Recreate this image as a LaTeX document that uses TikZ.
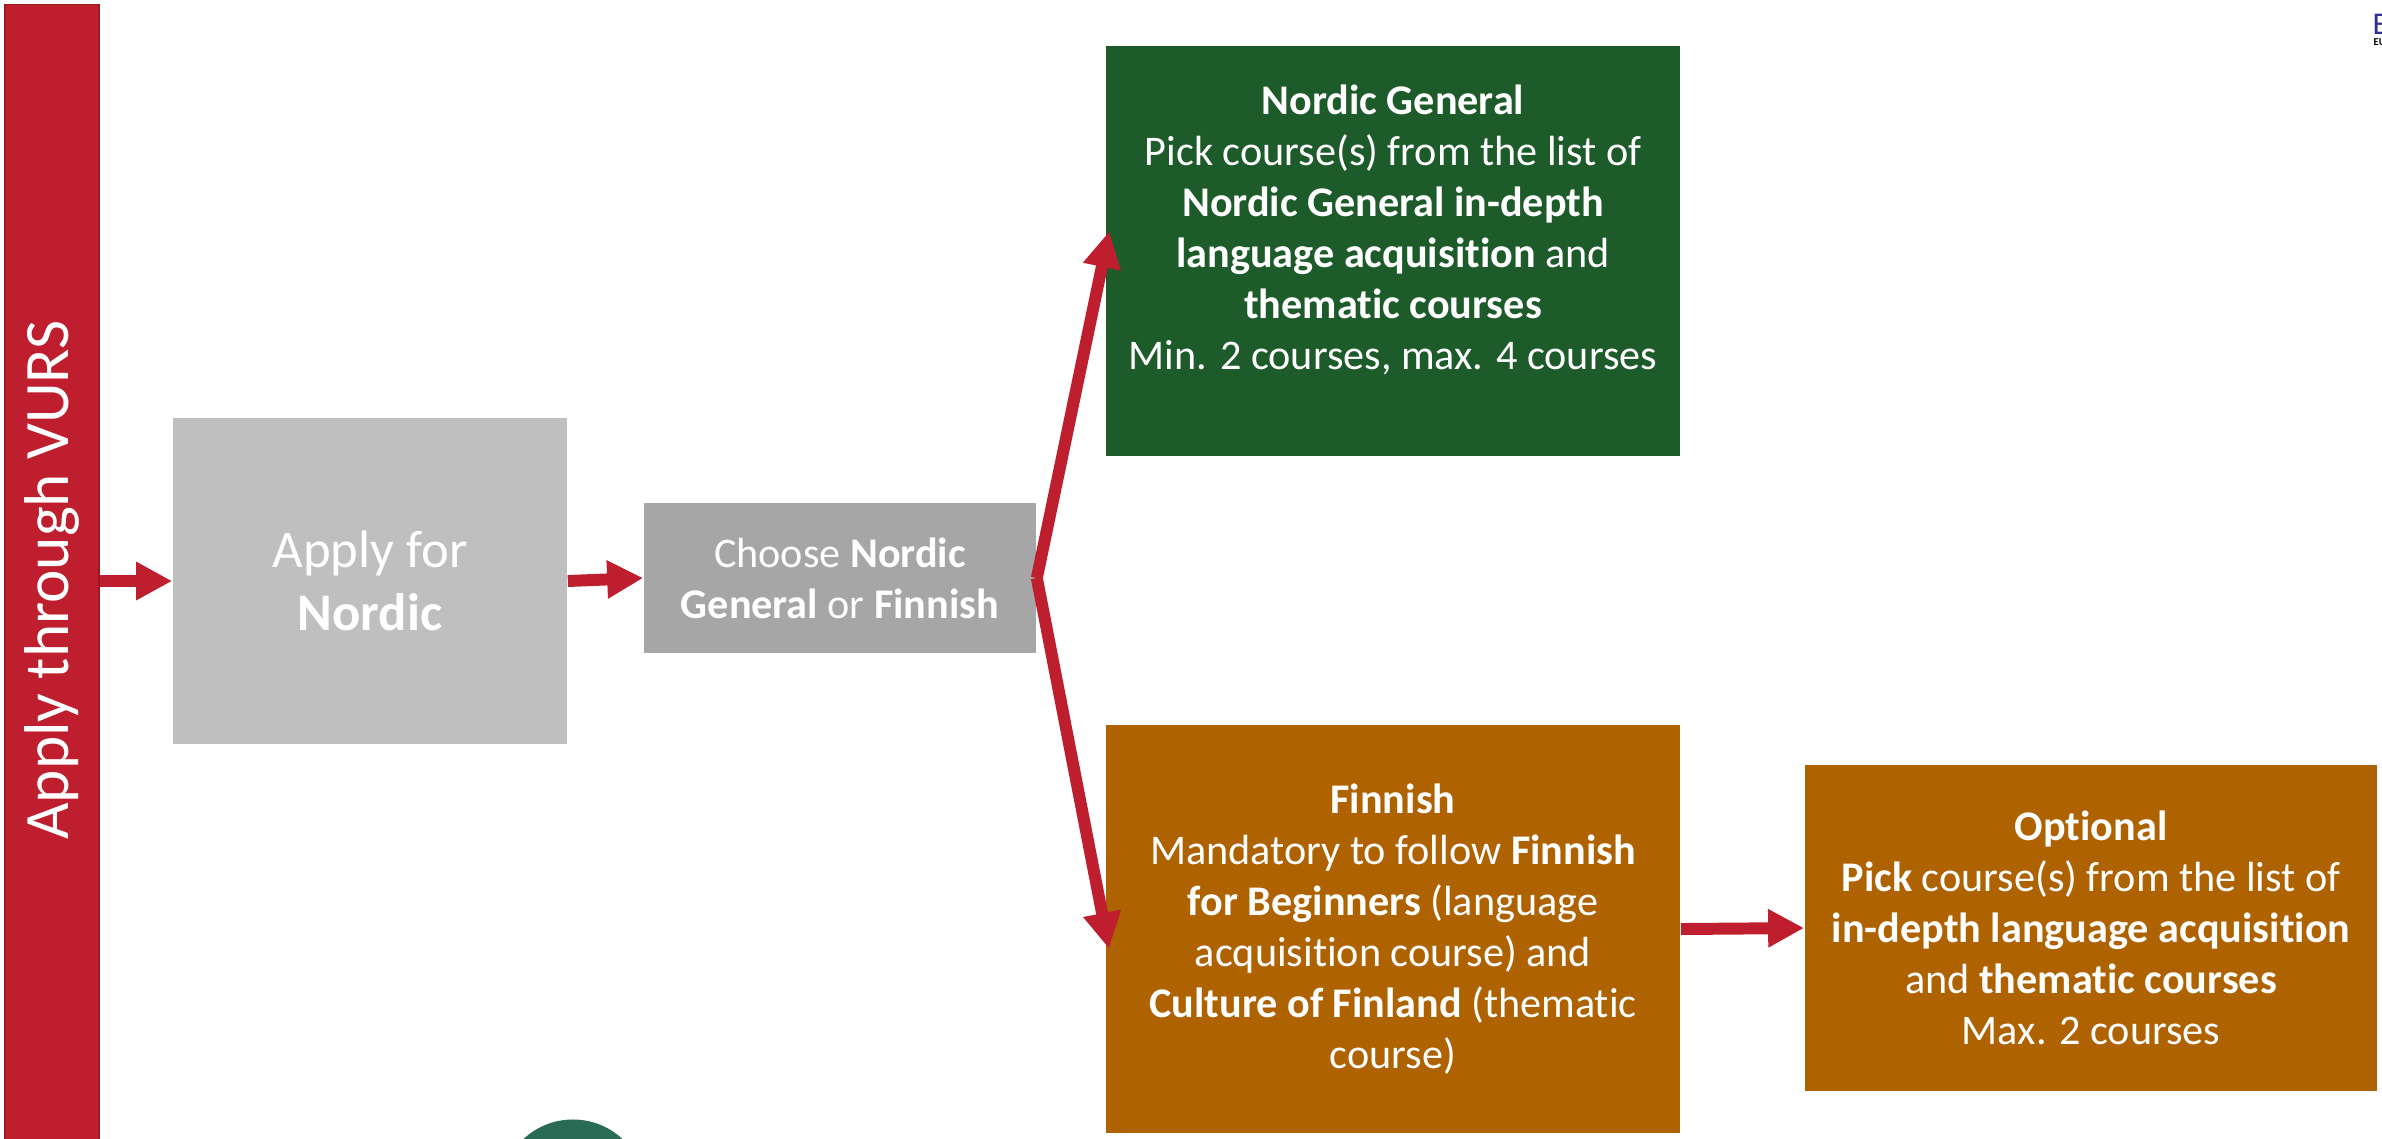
\documentclass[tikz,border=0pt]{standalone}
\usepackage{fontspec}
\setmainfont{Carlito}[Ligatures=NoCommon]
\usepackage{xcolor}
\usetikzlibrary{arrows.meta,positioning}

\definecolor{vursred}{HTML}{BE1E2D}
\definecolor{applygray}{HTML}{BFBFBF}
\definecolor{choosegray}{HTML}{A6A6A6}
\definecolor{gengreen}{HTML}{1E5B2A}
\definecolor{finorange}{HTML}{AE6200}
\definecolor{logoblue}{HTML}{2E3192}
\definecolor{blobgreen}{HTML}{2A6B55}

\begin{document}
\begin{tikzpicture}[x=0.01cm, y=-0.01cm,
  blk/.style={rectangle, inner sep=0pt, text=white, align=center,
              font=\fontsize{12}{14.5}\selectfont},
  arr/.style={draw=vursred, line width=3.4pt,
              -{Triangle[length=3.6mm, width=3.6mm]}}]
  \useasboundingbox (0,0) rectangle (2382,1138);

  % left bar and first steps
  \node[rectangle, fill=vursred, draw=vursred!80!black, line width=0.4pt,
        minimum width=0.94cm, minimum height=11.5cm] (vurs) at (52,580) {};
  \node[rotate=90, text=white, font=\fontsize{18}{22}\selectfont]
       (vurstext) at (vurs.center) {Apply through VURS};
  \node[blk, fill=applygray, minimum width=3.94cm, minimum height=3.26cm,
        font=\fontsize{15}{18}\selectfont] (apply) at (370,581)
       {Apply for\\ \textbf{Nordic}};
  \node[blk, fill=choosegray, minimum width=3.92cm, minimum height=1.49cm]
       (choose) at (840,578) {Choose \textbf{Nordic}\\ \textbf{General} or \textbf{Finnish}};

  % the two tracks
  \node[blk, fill=gengreen, minimum width=5.74cm, minimum height=4.09cm]
       (general) at (1393,251) {};
  \node[blk] (gentext) at ([yshift=2.1mm]general.center)
       {\textbf{Nordic General}\\ Pick course(s) from the list of\\
        \textbf{Nordic General in-depth}\\ \textbf{language acquisition} and\\
        \textbf{thematic courses}\\ Min. 2 courses, max. 4 courses};
  \node[blk, fill=finorange, minimum width=5.74cm, minimum height=4.08cm]
       (finnish) at (1393,929)
       {\textbf{Finnish}\\ Mandatory to follow \textbf{Finnish}\\
        \textbf{for Beginners} (language\\ acquisition course) and\\
        \textbf{Culture of Finland} (thematic\\ course)};
  \node[blk, fill=finorange, minimum width=5.72cm, minimum height=3.25cm]
       (optional) at (2091,928)
       {\textbf{Optional}\\ \textbf{Pick} course(s) from the list of\\
        \textbf{in-depth language acquisition}\\ and \textbf{thematic courses}\\
        Max. 2 courses};

  % cut-off bits at the edges
  \node[circle, fill=blobgreen, minimum size=1.45cm, inner sep=0pt]
       (blob) at (573,1192) {};
  \node[anchor=west, inner sep=0pt, text=logoblue,
        font=\fontsize{9}{9}\selectfont] (logo) at (2372,24) {E};
  \node[anchor=north west, inner sep=0pt, font=\bfseries\fontsize{3}{3}\selectfont]
       (logosub) at (2373,38) {EU};

  % arrows
  \draw[arr] (apply.west -| vurs.east) -- (apply.west);
  \draw[arr] (apply.east) -- (choose.west);
  \draw[arr, shorten >=-2mm] (choose.east) -- (general.west);
  \draw[arr, shorten >=-2mm] (choose.east) -- (finnish.west);
  \draw[arr] (finnish.east) -- (optional.west);
\end{tikzpicture}
\end{document}
